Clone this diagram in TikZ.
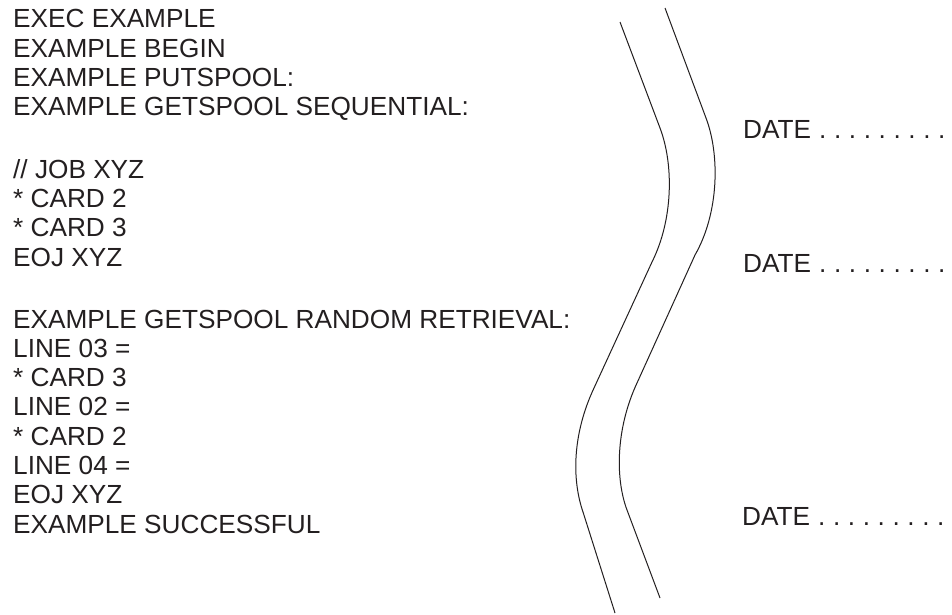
\documentclass[tikz,border=0pt]{standalone}
\usepackage{fontspec}
\setmainfont{Liberation Sans}
\definecolor{ink}{HTML}{231F20}
\newcommand{\dd}{\hspace{7.6pt}.}
\newcommand{\datedots}{DATE\hspace{8pt}.\dd\dd\dd\dd\dd\dd\dd\dd}
\begin{document}
\begin{tikzpicture}[x=1pt,y=-1pt,
  txt/.style={anchor=base west,inner sep=0pt,font=\fontsize{26.2}{30}\selectfont,text=ink},
  wave/.style={draw=ink,line width=1pt}]
\useasboundingbox (0,0) rectangle (952,615);
\fill[white] (0,0) rectangle (952,615);
% left column text
\node[txt] (t1) at (13,28) {EXEC EXAMPLE};
\node[txt] (t2) at (13,57.3) {EXAMPLE BEGIN};
\node[txt] (t3) at (13,86.6) {EXAMPLE PUTSPOOL:};
\node[txt] (t4) at (13,115.9) {EXAMPLE GETSPOOL SEQUENTIAL:};
\node[txt] (t5) at (13,178) {// JOB XYZ};
\node[txt] (t6) at (13,207.3) {* CARD 2};
\node[txt] (t7) at (13,236.6) {* CARD 3};
\node[txt] (t8) at (13,266) {EOJ XYZ};
\node[txt] (t9) at (13,328) {EXAMPLE GETSPOOL RANDOM RETRIEVAL:};
\node[txt] (t10) at (13,357.3) {LINE 03 =};
\node[txt] (t11) at (13,386.6) {* CARD 3};
\node[txt] (t12) at (13,415.9) {LINE 02 =};
\node[txt] (t13) at (13,445.2) {* CARD 2};
\node[txt] (t14) at (13,474.5) {LINE 04 =};
\node[txt] (t15) at (13,503.8) {EOJ XYZ};
\node[txt] (t16) at (13,533) {EXAMPLE SUCCESSFUL};
% wavy break lines
\draw[wave] (620,22) -- (660,128) .. controls (674,165) and (673,220) .. (652,262)
  -- (594,388) .. controls (572,435) and (572,480) .. (583,512) -- (615,613);
\draw[wave] (665,8) -- (706,118) .. controls (720,155) and (719,213) .. (695,255)
  -- (637,383) .. controls (616,428) and (615,478) .. (627,510) -- (660,598);
% right column
\node[txt] (d1) at (743,138) {\datedots};
\node[txt] (d2) at (743,272) {\datedots};
\node[txt] (d3) at (742,525) {\datedots};
\end{tikzpicture}
\end{document}
